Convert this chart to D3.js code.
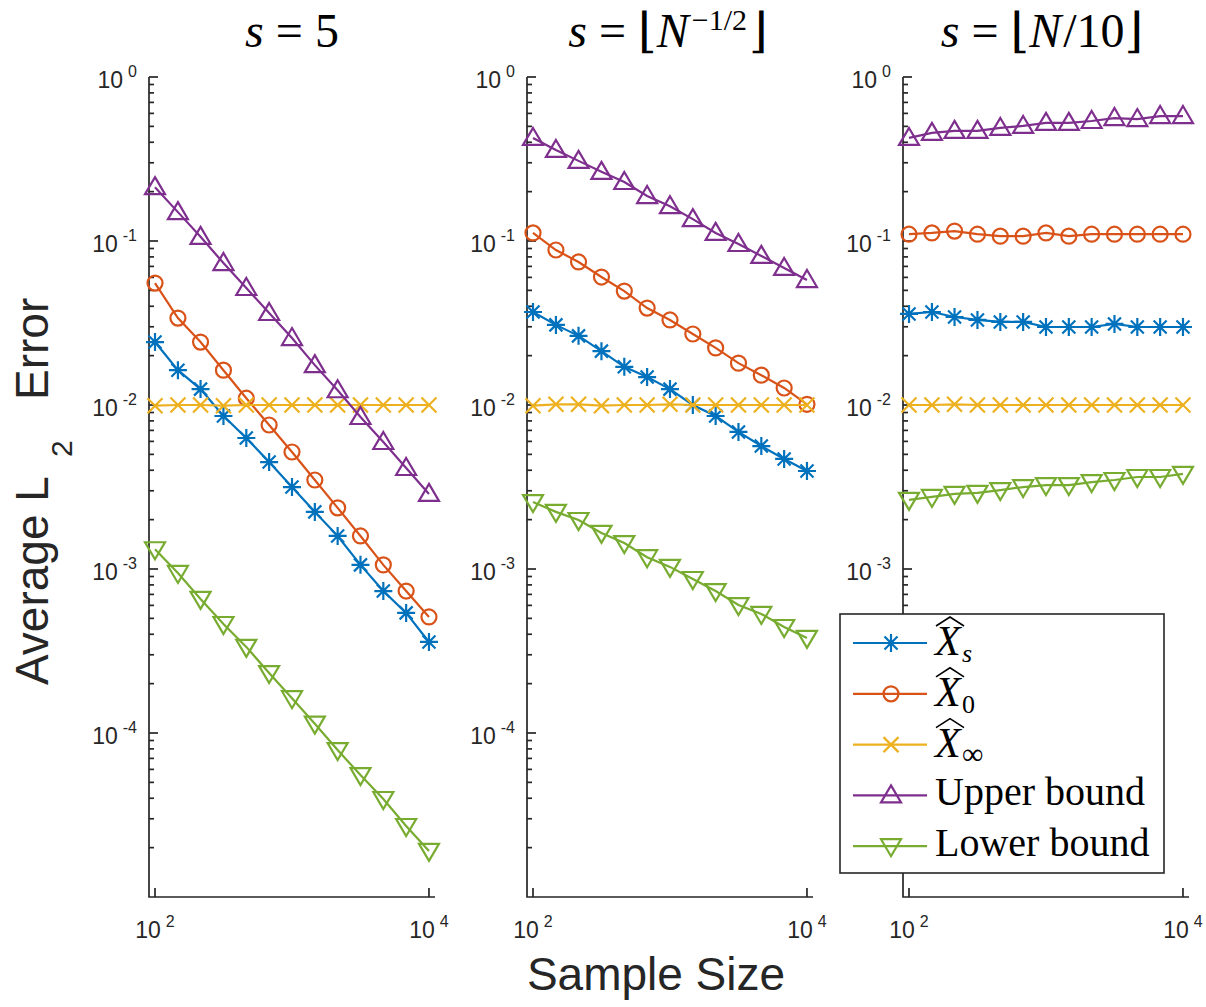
<!DOCTYPE html>
<html>
<head>
<meta charset="utf-8">
<style>
  body { margin: 0; background: #fff; }
  svg .axis-line { stroke: #262626; stroke-width: 1.7px; fill: none; }
  svg .tick { stroke: #262626; stroke-width: 1.7px; }
  svg .tick-label { font-family: "Liberation Sans", Arial, sans-serif; fill: #262626; }
  svg .title { font-family: "Liberation Serif", "DejaVu Serif", serif; font-size: 48px; fill: #000; }
  svg .axis-title { font-family: "Liberation Sans", Arial, sans-serif; font-size: 46px; fill: #262626; }
  svg .series-line { fill: none; stroke-width: 2.2px; }
  svg .marker { fill: none; stroke-width: 2.2px; }
  svg .legend-text { font-family: "Liberation Serif", "DejaVu Serif", serif; font-size: 40px; fill: #000; }
</style>
</head>
<body>
<script src="https://d3js.org/d3.v7.min.js"></script>
<script>
// sample sizes (x values, shared by all panels)
var sampleSizes = [100, 147, 215, 316, 464, 681, 1000, 1468, 2154, 3162, 4642, 6813, 10000];

// panel 1 : s = 5
var xs_p1    = [0.0242, 0.0163, 0.0125, 0.00857, 0.00629, 0.00449, 0.00316, 0.00223, 0.00159, 0.00106, 0.000734, 0.00054, 0.000359];
var x0_p1    = [0.0554, 0.0339, 0.0242, 0.0163, 0.0110, 0.00755, 0.00517, 0.00349, 0.00236, 0.00159, 0.00106, 0.000734, 0.00051];
var xinf_p1  = [0.0099, 0.0100, 0.0100, 0.0099, 0.0100, 0.0100, 0.0100, 0.0100, 0.0100, 0.0100, 0.0100, 0.0100, 0.0100];
var upper_p1 = [0.213, 0.150, 0.106, 0.0734, 0.0517, 0.0364, 0.0256, 0.0175, 0.0123, 0.00845, 0.00595, 0.00413, 0.00287];
var lower_p1 = [0.00132, 0.000946, 0.000657, 0.000462, 0.000335, 0.000232, 0.000163, 0.000114, 0.0000787, 0.0000554, 0.0000396, 0.0000271, 0.0000191];

// panel 2 : s = floor(N^-1/2)
var xs_p2    = [0.0369, 0.0308, 0.0264, 0.0213, 0.0171, 0.0148, 0.0125, 0.0100, 0.00857, 0.00685, 0.00562, 0.00469, 0.00396];
var x0_p2    = [0.112, 0.0881, 0.0745, 0.0603, 0.0495, 0.0390, 0.0330, 0.0271, 0.0223, 0.0180, 0.0152, 0.0127, 0.0101];
var xinf_p2  = [0.0099, 0.0101, 0.0101, 0.0099, 0.0100, 0.0100, 0.0101, 0.0100, 0.0100, 0.0100, 0.0100, 0.0100, 0.0100];
var upper_p2 = [0.425, 0.359, 0.308, 0.264, 0.229, 0.188, 0.163, 0.136, 0.112, 0.0959, 0.0811, 0.0685, 0.0578];
var lower_p2 = [0.00256, 0.00223, 0.00199, 0.00166, 0.00144, 0.00118, 0.00103, 0.000869, 0.000734, 0.000603, 0.000532, 0.000443, 0.00038];

// panel 3 : s = floor(N/10)
var xs_p3    = [0.0359, 0.0369, 0.0344, 0.0330, 0.0321, 0.0321, 0.0299, 0.0299, 0.0299, 0.0312, 0.0299, 0.0299, 0.0299];
var x0_p3    = [0.110, 0.112, 0.115, 0.110, 0.107, 0.107, 0.112, 0.107, 0.110, 0.110, 0.110, 0.110, 0.110];
var xinf_p3  = [0.0100, 0.0100, 0.0101, 0.0100, 0.0100, 0.0100, 0.0100, 0.0100, 0.0100, 0.0100, 0.0100, 0.0100, 0.0100];
var upper_p3 = [0.425, 0.456, 0.469, 0.469, 0.489, 0.503, 0.525, 0.525, 0.539, 0.562, 0.554, 0.578, 0.578];
var lower_p3 = [0.00264, 0.00275, 0.00287, 0.00291, 0.00303, 0.00316, 0.00325, 0.00325, 0.00339, 0.00349, 0.00364, 0.00364, 0.0038];

var seriesColors  = ["#0072BD", "#D95319", "#EDB120", "#7E2F8E", "#77AC30"];
var seriesMarkers = ["star", "circle", "cross", "up", "down"];
var legendSubs    = ["s", "0", "\u221E"];
var legendWords   = ["Upper bound", "Lower bound"];

var yTickExps = [0, -1, -2, -3, -4];
var xTickExps = [2, 4];

var panels = [
  { series: [xs_p1, x0_p1, xinf_p1, upper_p1, lower_p1] },
  { series: [xs_p2, x0_p2, xinf_p2, upper_p2, lower_p2] },
  { series: [xs_p3, x0_p3, xinf_p3, upper_p3, lower_p3] }
];

var W = 1206, H = 1007;
var panelLefts = [149, 527, 903];
var panelW = 286;
var plotTop = 77, plotBottom = 897;

var svg = d3.select("body").append("svg")
    .attr("width", W)
    .attr("height", H);

var yScale = d3.scaleLog().domain([1e-5, 1]).range([plotBottom, plotTop]);

function markerPath(type, x, y) {
  var p = d3.path();
  if (type === "star") {
    var a = 9, b = 6.5;
    p.moveTo(x - a, y); p.lineTo(x + a, y);
    p.moveTo(x, y - a); p.lineTo(x, y + a);
    p.moveTo(x - b, y - b); p.lineTo(x + b, y + b);
    p.moveTo(x - b, y + b); p.lineTo(x + b, y - b);
  } else if (type === "circle") {
    p.moveTo(x + 7.5, y); p.arc(x, y, 7.5, 0, 2 * Math.PI);
  } else if (type === "cross") {
    var c = 7.5;
    p.moveTo(x - c, y - c); p.lineTo(x + c, y + c);
    p.moveTo(x - c, y + c); p.lineTo(x + c, y - c);
  } else if (type === "up") {
    p.moveTo(x, y - 10); p.lineTo(x + 10, y + 7); p.lineTo(x - 10, y + 7); p.closePath();
  } else if (type === "down") {
    p.moveTo(x, y + 10); p.lineTo(x + 10, y - 7); p.lineTo(x - 10, y - 7); p.closePath();
  }
  return p.toString();
}

function powerLabel(sel, base, exp) {
  sel.append("tspan").style("font-size", "23px").text(base);
  sel.append("tspan").style("font-size", "16px").attr("dx", 5).attr("dy", -11).text(exp);
}

panels.forEach(function (panel, pi) {
  var left = panelLefts[pi];
  var xScale = d3.scaleLog().domain([90.4, 11066]).range([left, left + panelW]);
  var g = svg.append("g");

  // axes lines (box off: left and bottom only)
  g.append("path").attr("class", "axis-line")
    .attr("d", "M" + left + "," + plotTop + "V" + plotBottom + "H" + (left + panelW));

  // y ticks (major + minor, pointing inward)
  var minor = [];
  for (var e = -5; e < 0; e++) {
    for (var k = 2; k <= 9; k++) minor.push(k * Math.pow(10, e));
  }
  g.selectAll(".ytick-minor").data(minor).enter().append("line")
    .attr("class", "tick")
    .attr("x1", left).attr("x2", left + 5)
    .attr("y1", function (d) { return yScale(d); })
    .attr("y2", function (d) { return yScale(d); });
  g.selectAll(".ytick-major").data(yTickExps).enter().append("line")
    .attr("class", "tick")
    .attr("x1", left).attr("x2", left + 9)
    .attr("y1", function (d) { return yScale(Math.pow(10, d)); })
    .attr("y2", function (d) { return yScale(Math.pow(10, d)); });
  g.selectAll(".ylab").data(yTickExps).enter().append("text")
    .attr("class", "tick-label")
    .attr("text-anchor", "end")
    .attr("x", left - 12)
    .attr("y", function (d) { return yScale(Math.pow(10, d)) + 11; })
    .each(function (d) { powerLabel(d3.select(this), "10", String(d)); });

  // x ticks
  g.selectAll(".xtick").data(xTickExps).enter().append("line")
    .attr("class", "tick")
    .attr("x1", function (d) { return xScale(Math.pow(10, d)); })
    .attr("x2", function (d) { return xScale(Math.pow(10, d)); })
    .attr("y1", plotBottom).attr("y2", plotBottom - 9);
  g.selectAll(".xlab").data(xTickExps).enter().append("text")
    .attr("class", "tick-label")
    .attr("text-anchor", "middle")
    .attr("x", function (d) { return xScale(Math.pow(10, d)); })
    .attr("y", 938)
    .each(function (d) { powerLabel(d3.select(this), "10", String(d)); });

  // series
  var line = d3.line()
    .x(function (d, i) { return xScale(sampleSizes[i]); })
    .y(function (d) { return yScale(d); });

  panel.series.forEach(function (vals, si) {
    g.append("path").attr("class", "series-line")
      .attr("d", line(vals))
      .style("stroke", seriesColors[si]);
    g.selectAll(".m" + si).data(vals).enter().append("path")
      .attr("class", "marker")
      .attr("d", function (d, i) { return markerPath(seriesMarkers[si], xScale(sampleSizes[i]), yScale(d)); })
      .style("stroke", seriesColors[si]);
  });
});

// titles
var cx = panelLefts.map(function (l) { return l + panelW / 2; });
var t1 = svg.append("text").attr("class", "title").attr("text-anchor", "middle").attr("x", cx[0]).attr("y", 47);
t1.append("tspan").attr("font-style", "italic").text("s");
t1.append("tspan").attr("dx", 12).text("=");
t1.append("tspan").attr("dx", 12).text("5");

var t2 = svg.append("text").attr("class", "title").attr("text-anchor", "middle").attr("x", cx[1] - 2).attr("y", 47);
t2.append("tspan").attr("font-style", "italic").text("s");
t2.append("tspan").attr("dx", 12).text("=");
t2.append("tspan").attr("dx", 12).text("\u230A");
t2.append("tspan").attr("font-style", "italic").text("N");
t2.append("tspan").style("font-size", "30px").attr("dy", -17).attr("dx", 3).text("\u22121/2");
t2.append("tspan").attr("dy", 17).attr("dx", 2).text("\u230B");

var t3 = svg.append("text").attr("class", "title").attr("text-anchor", "middle").attr("x", cx[2] - 4).attr("y", 47);
t3.append("tspan").attr("font-style", "italic").text("s");
t3.append("tspan").attr("dx", 12).text("=");
t3.append("tspan").attr("dx", 12).text("\u230A");
t3.append("tspan").attr("font-style", "italic").text("N");
t3.append("tspan").attr("dx", 2).text("/10\u230B");

// axis titles
svg.append("text").attr("class", "axis-title")
  .attr("text-anchor", "middle")
  .attr("x", 656).attr("y", 990)
  .text("Sample Size");

var yl = svg.append("text").attr("class", "axis-title")
  .attr("transform", "translate(48,685) rotate(-90)");
yl.append("tspan").attr("x", 0).attr("y", 0).text("Average L");
yl.append("tspan").attr("x", 228).attr("y", 24).style("font-size", "30px").text("2");
yl.append("tspan").attr("x", 285).attr("y", 0).text("Error");

// legend
var lg = svg.append("g");
lg.append("rect")
  .attr("x", 840).attr("y", 614).attr("width", 324).attr("height", 259)
  .style("fill", "#fff").style("stroke", "#262626").style("stroke-width", 1.6);

seriesColors.forEach(function (col, i) {
  var ry = 643 + i * 50.8;
  lg.append("line")
    .attr("x1", 853).attr("x2", 927).attr("y1", ry).attr("y2", ry)
    .style("stroke", col).style("stroke-width", 2.2);
  lg.append("path").attr("class", "marker")
    .attr("d", markerPath(seriesMarkers[i], 891, ry))
    .style("stroke", col);

  if (i < 3) {
    var xt = lg.append("text").attr("class", "legend-text")
      .attr("x", 935).attr("y", ry + 12)
      .style("font-style", "italic")
      .style("font-size", "42px")
      .text("X");
    var bb = xt.node().getBBox();
    var hatY = ry - 17;
    lg.append("path")
      .attr("d", "M" + (bb.x + 3) + "," + hatY + "L" + (bb.x + bb.width / 2 + 2) + "," + (hatY - 9) + "L" + (bb.x + bb.width + 1) + "," + hatY)
      .style("fill", "none").style("stroke", "#000").style("stroke-width", 1.6);
    lg.append("text").attr("class", "legend-text")
      .attr("x", bb.x + bb.width - 1).attr("y", ry + 19)
      .style("font-size", i === 2 ? "30px" : "26px")
      .style("font-style", i === 0 ? "italic" : "normal")
      .text(legendSubs[i]);
  } else {
    lg.append("text").attr("class", "legend-text")
      .attr("x", 935).attr("y", ry + 10)
      .text(legendWords[i - 3]);
  }
});
</script>
</body>
</html>
